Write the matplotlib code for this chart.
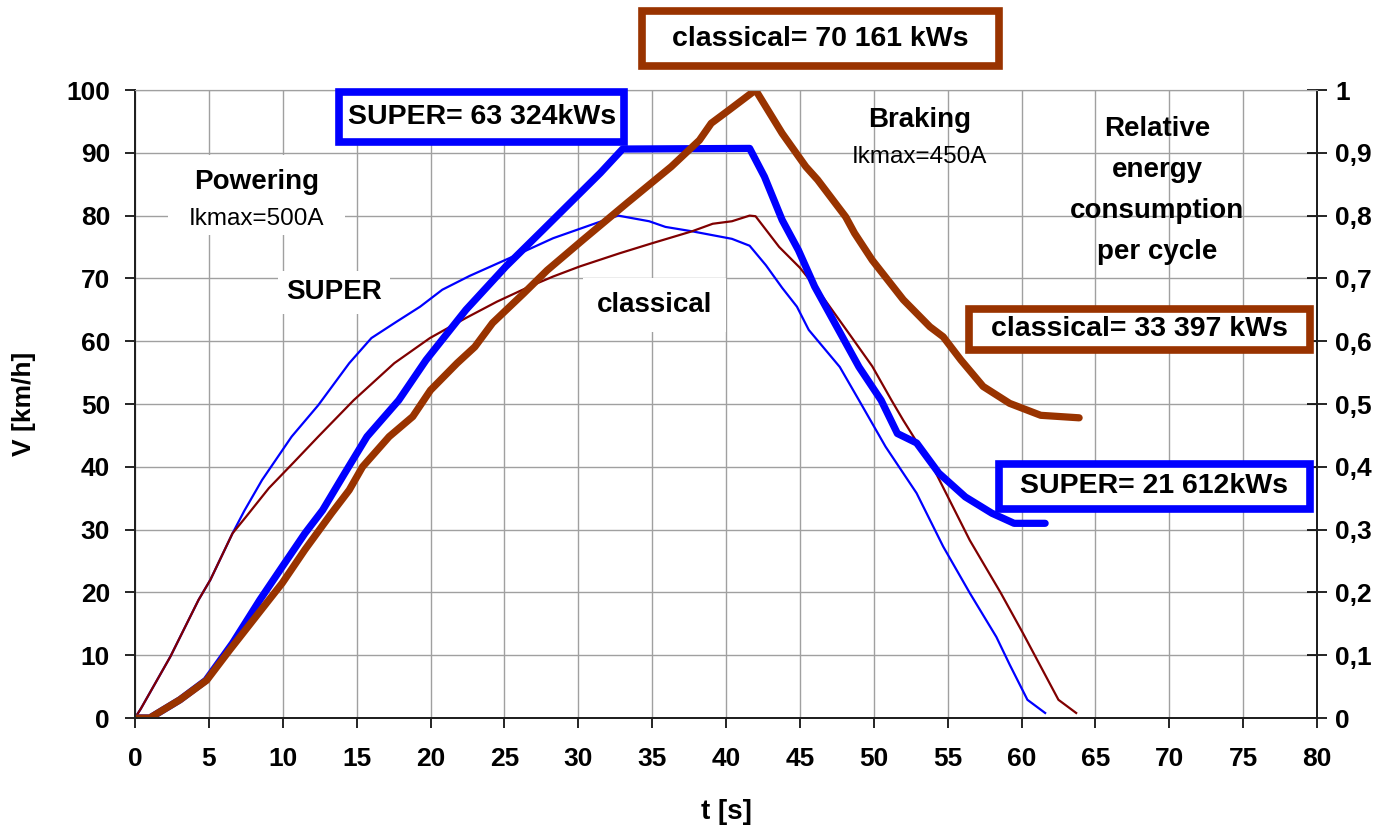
import numpy as np
import matplotlib
matplotlib.use('Agg')
from matplotlib import pyplot as plt
from matplotlib.patches import Rectangle
from matplotlib.ticker import FuncFormatter

plt.rcParams['font.family'] = ['Liberation Sans', 'DejaVu Sans']

# speed, SUPER (thin blue) [s], [km/h]
t_super_v = [0, 0.4, 2.4, 4.3, 5.1, 6.6, 7.4, 8.6, 10.6, 12.4, 14.5, 16.0, 17.7,
             19.3, 20.8, 22.65, 25.6, 28.3, 31.2, 32.7, 34.8, 35.9, 37.7, 40.4,
             41.6, 42.7, 43.8, 44.8, 45.6, 47.7, 49.0, 50.8, 52.9, 54.7, 56.5,
             58.3, 59.2, 60.4, 61.6]
v_super = [0, 1.5, 9.8, 18.8, 22, 29.4, 33, 37.9, 44.8, 49.8, 56.5, 60.5, 63.1,
           65.5, 68.2, 70.4, 73.5, 76.4, 78.8, 80, 79.1, 78.2, 77.5, 76.3,
           75.2, 72.1, 68.5, 65.5, 61.8, 55.9, 50.6, 43.2, 35.8, 27.3, 19.9,
           12.9, 8.5, 2.9, 0.8]

# speed, classical (thin dark red)
t_class_v = [0, 0.4, 2.4, 4.3, 5.1, 6.6, 7.5, 9.06, 10.7, 12.4, 14.8, 17.55,
             19.96, 22.4, 24.5, 26.7, 28.3, 30.1, 32.8, 35.0, 37.7, 39.1, 40.4,
             41.6, 42.0, 43.6, 45.0, 46.2, 48.3, 49.9, 51.2, 52.0, 54.1, 56.5,
             58.6, 60.1, 62.5, 63.7]
v_class = [0, 1.5, 9.8, 18.8, 22, 29.4, 32, 36.6, 40.6, 44.8, 50.6, 56.5,
           60.5, 63.7, 66.3, 68.7, 70.3, 71.9, 74, 75.6, 77.5, 78.7, 79.1,
           80, 79.9, 75, 71.7, 68.2, 61.3, 56, 50.6, 47.4, 39.5, 28.3,
           19.9, 13.5, 2.9, 0.8]

# relative energy per cycle, SUPER (thick blue)
t_super_e = [0, 1.0, 3.04, 4.8, 6.6, 8.45, 9.97, 11.5, 12.7, 14.2, 15.7, 17.85,
             19.7, 22.4, 25.1, 27.6, 30.3, 31.5, 33.0, 41.6, 42.6, 43.8, 44.9,
             46.0, 47.5, 49.0, 50.5, 51.6, 52.9, 54.4, 56.2, 58.0, 59.5, 61.6]
e_super = [0, 0, 0.029, 0.06, 0.119, 0.188, 0.241, 0.294, 0.331, 0.39, 0.448,
           0.506, 0.57, 0.65, 0.719, 0.777, 0.84, 0.868, 0.906, 0.907, 0.862,
           0.793, 0.745, 0.687, 0.623, 0.559, 0.506, 0.453, 0.438, 0.39, 0.352,
           0.326, 0.31, 0.31]

# relative energy per cycle, classical (thick brown)
t_class_e = [0, 1.0, 3.04, 4.85, 6.4, 8.7, 9.97, 11.5, 13.3, 14.5, 15.4, 17.2,
             18.8, 20.0, 21.8, 23.0, 24.2, 26.3, 27.9, 30.3, 33.3, 36.3, 38.2,
             39.0, 40.2, 42.0, 43.8, 45.4, 46.2, 48.1, 48.7, 49.9, 52.0, 53.8,
             54.7, 55.9, 57.4, 59.2, 61.3, 63.9]
e_class = [0, 0, 0.029, 0.06, 0.108, 0.177, 0.215, 0.268, 0.326, 0.363, 0.40,
           0.448, 0.48, 0.522, 0.565, 0.591, 0.629, 0.676, 0.713, 0.761, 0.82,
           0.878, 0.92, 0.947, 0.968, 1.0, 0.931, 0.878, 0.857, 0.798, 0.772,
           0.729, 0.666, 0.623, 0.607, 0.57, 0.528, 0.501, 0.482, 0.478]

W, H = 1385, 835
fig = plt.figure(figsize=(W / 100, H / 100), dpi=100)
ax = fig.add_axes([135 / W, 1 - 718 / H, 1182 / W, 628 / H])
ax2 = ax.twinx()

gray = '#a0a0a0'
ax.set_xlim(0, 80)
ax.set_ylim(0, 100)
ax.set_xticks(np.arange(0, 81, 5))
ax.set_yticks(np.arange(0, 101, 10))
ax.grid(True, color=gray, lw=1)
ax.set_axisbelow(True)
ax2.set_ylim(0, 1)
ax2.set_yticks(np.arange(0, 1.01, 0.1))
ax2.yaxis.set_major_formatter(FuncFormatter(
    lambda v, p: '0' if v < 0.05 else ('1' if v > 0.95 else ('%.1f' % v).replace('.', ','))))

for a in (ax, ax2):
    a.spines['top'].set_color(gray)
    for s in ('left', 'right', 'bottom'):
        a.spines[s].set_color('#202020')
        a.spines[s].set_linewidth(1.4)
ax.tick_params(axis='both', direction='out', length=7, width=1.2, labelsize=19)
ax.tick_params(axis='x', pad=14)
ax.tick_params(axis='y', pad=11)
ax2.tick_params(axis='y', direction='inout', length=14, width=1.2, labelsize=19, pad=6)
for lab in ax.get_xticklabels() + ax.get_yticklabels() + ax2.get_yticklabels():
    lab.set_fontweight('bold')

ax.plot(t_super_v, v_super, color='#0000ff', lw=1.6, zorder=3)
ax.plot(t_class_v, v_class, color='#800000', lw=1.6, zorder=3)
ax2.plot(t_super_e, e_super, color='#0000ff', lw=5.2,
         solid_capstyle='round', solid_joinstyle='round')
ax2.plot(t_class_e, e_class, color='#993300', lw=5.2,
         solid_capstyle='round', solid_joinstyle='round')

ax.set_xlabel('t [s]', fontsize=20, fontweight='bold', labelpad=20)
ax.set_ylabel('V [km/h]', fontsize=19, fontweight='bold', labelpad=22)

# white patch behind the "Powering" block
ax.add_patch(Rectangle((2.25, 76.9), 11.95, 12.7, facecolor='white',
                       edgecolor='none', zorder=2.5))
ax.text(8.25, 85.4, 'Powering', ha='center', va='center', fontsize=20, fontweight='bold')
ax.text(8.25, 79.5, 'Ikmax=500A', ha='center', va='center', fontsize=17.5)
ax.text(13.45, 67.8, 'SUPER', ha='center', va='center', fontsize=20,
        fontweight='bold', bbox=dict(facecolor='white', edgecolor='none', pad=6))
ax.text(35.15, 65.8, 'classical', ha='center', va='center', fontsize=20,
        fontweight='bold', bbox=dict(facecolor='white', edgecolor='none', pad=10))
ax.text(53.1, 95.3, 'Braking', ha='center', va='center', fontsize=20, fontweight='bold')
ax.text(53.1, 89.3, 'Ikmax=450A', ha='center', va='center', fontsize=17.5)
ax.text(69.2, 84.0, 'Relative\nenergy\nconsumption\nper cycle', ha='center',
        va='center', fontsize=20, fontweight='bold', linespacing=1.75)

# framed result boxes (figure pixels, y from top)
boxes = [
    ('classical= 70 161 kWs', 641.5, 11.5, 998.5, 65.5, '#993300'),
    ('SUPER= 63 324kWs', 339.4, 92.3, 623.8, 142.0, '#0000ff'),
    ('classical= 33 397 kWs', 969.0, 309.0, 1309.6, 350.0, '#993300'),
    ('SUPER= 21 612kWs', 999.0, 464.0, 1309.6, 508.7, '#0000ff'),
]
for txt, x0, y0, x1, y1, col in boxes:
    fig.add_artist(Rectangle((x0 / W, 1 - y1 / H), (x1 - x0) / W, (y1 - y0) / H,
                             transform=fig.transFigure, facecolor='white',
                             edgecolor=col, lw=5.5, zorder=5))
    fig.text((x0 + x1) / 2 / W, 1 - (y0 + y1) / 2 / H, txt, ha='center',
             va='center', fontsize=20.5, fontweight='bold', zorder=6)

fig.savefig('out.png', dpi=100)
